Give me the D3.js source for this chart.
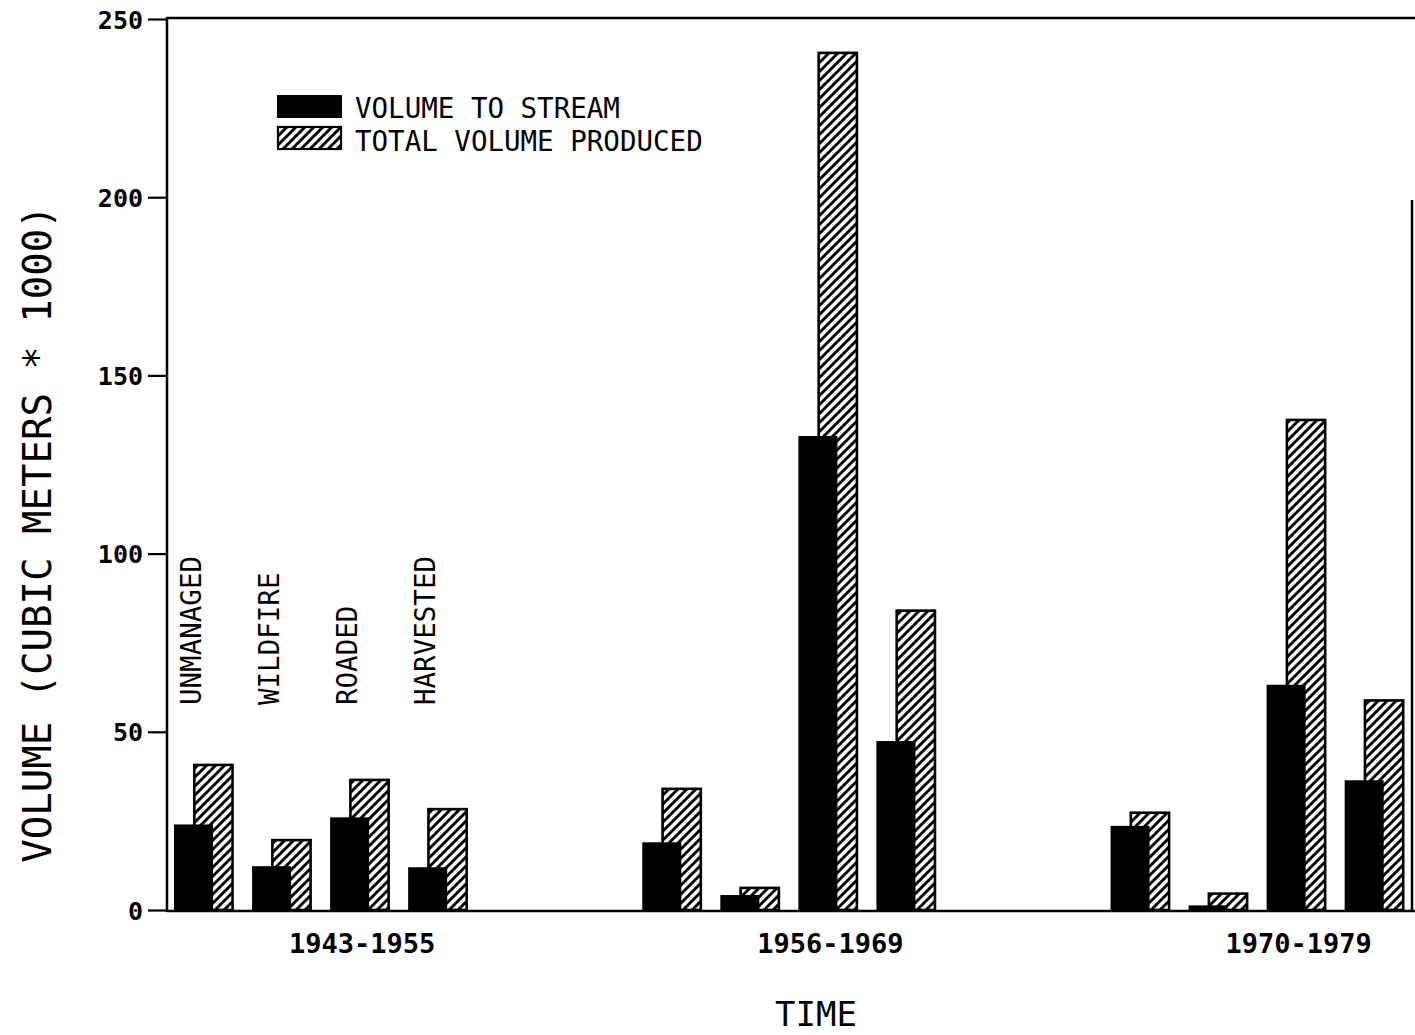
<!DOCTYPE html>
<html>
<head>
<meta charset="utf-8">
<script src="https://cdn.jsdelivr.net/npm/d3@7/dist/d3.min.js"></script>
<style>
  html, body { margin: 0; padding: 0; background: #fff; }
  svg { display: block; }
  text { font-family: "DejaVu Sans Mono", "Liberation Mono", monospace; fill: #000; }
</style>
</head>
<body>
<svg id="chart" width="1415" height="1035"></svg>
<script>
// Woody debris volumes by period and watershed treatment
const periods = ["1943-1955", "1956-1969", "1970-1979"];
const treatments = ["UNMANAGED", "WILDFIRE", "ROADED", "HARVESTED"];
// volume delivered to the stream (cubic meters * 1000)
const volumeToStream = [
  [24.0, 12.3, 26.0, 12.0],
  [19.0, 4.2, 133.0, 47.4],
  [23.6, 1.3, 63.2, 36.4]
];
// total volume produced (cubic meters * 1000)
const totalProduced = [
  [40.7, 19.6, 36.5, 28.3],
  [34.0, 6.2, 240.5, 84.0],
  [27.3, 4.6, 137.5, 58.8]
];
const yTicks = [0, 50, 100, 150, 200, 250];
const legendLabels = ["VOLUME TO STREAM", "TOTAL VOLUME PRODUCED"];

const svg = d3.select("#chart");

// slot scale: each period occupies 6 slots (4 treatments + gap)
const x = d3.scaleLinear().domain([0, 15.94]).range([167, 1411]);
const y = d3.scaleLinear().domain([0, 250]).range([910, 19]);

// diagonal hatch pattern
const defs = svg.append("defs");
const P = 9;
const pat = defs.append("pattern")
  .attr("id", "hatch")
  .attr("patternUnits", "userSpaceOnUse")
  .attr("width", P).attr("height", P);
pat.append("rect").attr("width", P).attr("height", P).attr("fill", "#fff");
pat.append("path")
  .attr("d", `M-2,2 L2,-2 M0,${P} L${P},0 M${P - 2},${P + 2} L${P + 2},${P - 2}`)
  .attr("stroke", "#000").attr("stroke-width", 2.9);

// flatten data into bar records
const records = [];
periods.forEach((p, g) => {
  treatments.forEach((t, c) => {
    records.push({ slot: 6 * g + c, stream: volumeToStream[g][c], total: totalProduced[g][c] });
  });
});

// total-volume (hatched) bars, behind
svg.append("g").selectAll("rect")
  .data(records).join("rect")
  .attr("x", d => x(d.slot + 0.35))
  .attr("width", d => x(d.slot + 0.84) - x(d.slot + 0.35))
  .attr("y", d => y(d.total))
  .attr("height", d => y(0) - y(d.total))
  .attr("fill", "url(#hatch)")
  .attr("stroke", "#000").attr("stroke-width", 2.6);

// volume-to-stream (solid) bars, in front
svg.append("g").selectAll("rect")
  .data(records).join("rect")
  .attr("x", d => x(d.slot + 0.09))
  .attr("width", d => x(d.slot + 0.59) - x(d.slot + 0.09))
  .attr("y", d => y(d.stream))
  .attr("height", d => y(0) - y(d.stream))
  .attr("fill", "#000");

// frame lines
const frame = svg.append("g").attr("stroke", "#000").attr("stroke-width", 2.5).attr("fill", "none");
frame.append("line").attr("x1", 167).attr("x2", 1415).attr("y1", y(250) - 1).attr("y2", y(250) - 1);
frame.append("line").attr("x1", 167).attr("x2", 1415).attr("y1", y(0) + 1).attr("y2", y(0) + 1);
frame.append("line").attr("x1", 1412).attr("x2", 1412).attr("y1", 200).attr("y2", y(0) + 1);

// y axis
const yAxis = svg.append("g")
  .attr("transform", "translate(167,0)")
  .call(d3.axisLeft(y).tickValues(yTicks).tickSize(19).tickSizeOuter(0).tickPadding(5));
yAxis.select(".domain").attr("stroke-width", 2.5).attr("d", `M0,${y(250) - 2}V${y(0) + 2}`);
yAxis.selectAll(".tick line").attr("stroke-width", 2.2);
yAxis.selectAll(".tick text")
  .style("font-family", "'DejaVu Sans Mono', monospace")
  .attr("font-size", 25).attr("font-weight", "bold").attr("dy", "0.36em");

// y axis title
svg.append("text")
  .attr("transform", `translate(51,534) rotate(-90)`)
  .attr("text-anchor", "middle")
  .attr("font-size", 39)
  .text("VOLUME (CUBIC METERS * 1000)");

// period labels
svg.append("g").selectAll("text")
  .data(periods).join("text")
  .attr("x", (d, i) => x(6 * i + 2.5))
  .attr("y", 953)
  .attr("text-anchor", "middle")
  .attr("font-size", 27).attr("font-weight", "bold")
  .text(d => d);

// x axis title
svg.append("text")
  .attr("x", 816).attr("y", 1026)
  .attr("text-anchor", "middle")
  .attr("font-size", 34)
  .text("TIME");

// treatment labels above first period
svg.append("g").selectAll("text")
  .data(treatments).join("text")
  .attr("transform", (d, i) => `translate(${x(i + 0.31) + 10},705) rotate(-90)`)
  .attr("text-anchor", "start")
  .attr("font-size", 27.5)
  .text(d => d);

// legend
const legend = svg.append("g");
legend.append("rect").attr("x", 277).attr("y", 95).attr("width", 65).attr("height", 23).attr("fill", "#000");
legend.append("rect").attr("x", 278).attr("y", 127).attr("width", 63).attr("height", 22)
  .attr("fill", "url(#hatch)").attr("stroke", "#000").attr("stroke-width", 2.2);
legend.selectAll("text.lg")
  .data(legendLabels).join("text")
  .attr("class", "lg")
  .attr("x", 355)
  .attr("y", (d, i) => 118 + i * 33)
  .attr("font-size", 27.5)
  .text(d => d);
</script>
</body>
</html>
